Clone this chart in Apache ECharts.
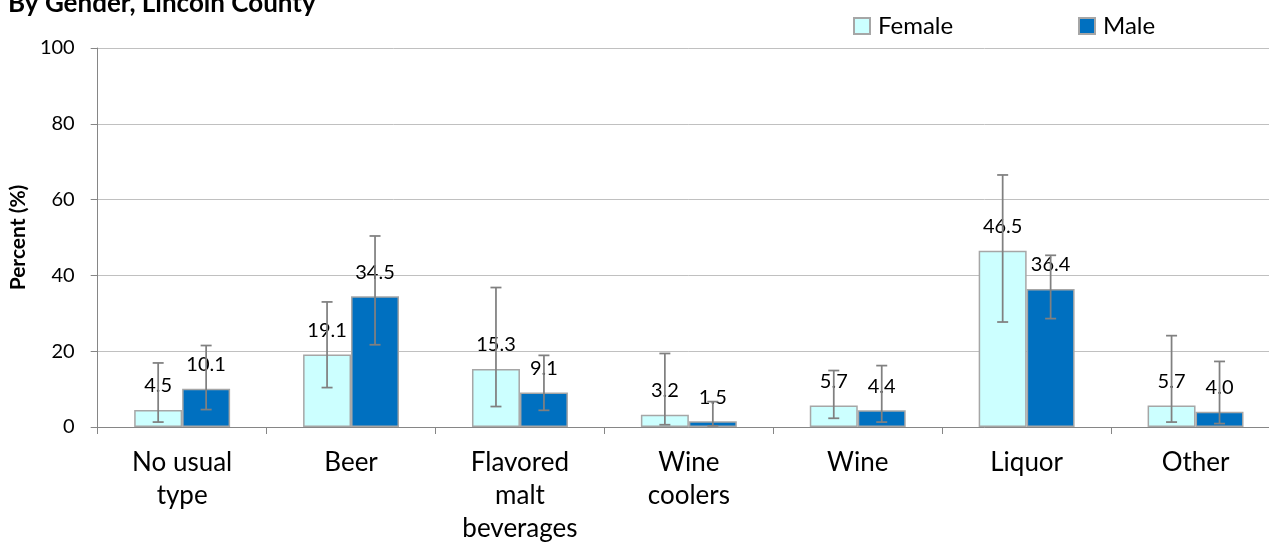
<!DOCTYPE html>
<html>
<head>
<meta charset="utf-8">
<title>Usual type of alcohol by gender</title>
<script src="https://cdn.jsdelivr.net/npm/echarts@6/dist/echarts.min.js"></script>
<style>
  html, body { margin: 0; padding: 0; background: #fff; overflow: hidden; }
  /* the plot area runs a little past the visible window on the right */
  #chart { width: 1280px; height: 548px; }
</style>
</head>
<body>
<div id="chart"></div>
<script>
// Categories and values (percent)
const categories = ['No usual\ntype', 'Beer', 'Flavored\nmalt\nbeverages', 'Wine\ncoolers', 'Wine', 'Liquor', 'Other'];
const female = [4.5, 19.1, 15.3, 3.2, 5.7, 46.5, 5.7];
const male = [10.1, 34.5, 9.1, 1.5, 4.4, 36.4, 4.0];
// Confidence interval bounds
const femaleLow = [1.3, 10.4, 5.4, 0.6, 2.3, 27.7, 1.3];
const femaleHigh = [16.9, 33.0, 36.8, 19.4, 14.9, 66.5, 24.1];
const maleLow = [4.6, 21.7, 4.4, 0.3, 1.3, 28.6, 0.9];
const maleHigh = [21.5, 50.4, 18.9, 6.7, 16.2, 45.3, 17.3];
const yTicks = [0, 20, 40, 60, 80, 100];

const FONT = 'Lato';
const BAR_FRAC = 0.284; // bar width as a share of the category band

function errorSeries(name, low, high, side) {
  const data = low.map((lo, i) => [i, lo, high[i]]);
  return {
    name: name + ' CI',
    type: 'custom',
    z: 5,
    silent: true,
    data: data,
    encode: { x: 0, y: [1, 2] },
    renderItem: function (params, api) {
      const idx = api.value(0);
      const band = api.size([1, 0])[0];
      const off = side * band * BAR_FRAC / 2;
      const lo = api.coord([idx, api.value(1)]);
      const hi = api.coord([idx, api.value(2)]);
      const x = lo[0] + off;
      const cap = 5.5;
      const style = { stroke: '#808080', lineWidth: 1.75, fill: null };
      return {
        type: 'group',
        children: [
          { type: 'line', shape: { x1: x, y1: hi[1], x2: x, y2: lo[1] }, style: style },
          { type: 'line', shape: { x1: x - cap, y1: hi[1], x2: x + cap, y2: hi[1] }, style: style },
          { type: 'line', shape: { x1: x - cap, y1: lo[1], x2: x + cap, y2: lo[1] }, style: style }
        ]
      };
    }
  };
}

const valueLabel = {
  show: true,
  position: 'top',
  distance: 14,
  color: '#000',
  fontFamily: FONT,
  fontSize: 20,
  formatter: p => p.value.toFixed(1)
};

const chart = echarts.init(document.getElementById('chart'), null, { renderer: 'canvas' });

chart.setOption({
  animation: false,
  backgroundColor: '#fff',
  textStyle: { fontFamily: FONT },
  graphic: [{
    type: 'text',
    left: 8,
    top: -9,
    style: {
      text: 'By Gender, Lincoln County',
      fontFamily: FONT,
      fontWeight: 'bold',
      fontSize: 26,
      fill: '#000'
    }
  }],
  legend: [
    {
      data: ['Female'],
      left: 848, top: 9,
      icon: 'rect', itemWidth: 16, itemHeight: 16, itemGap: 0,
      textStyle: { fontFamily: FONT, fontSize: 24, color: '#000', padding: [0, 0, 0, 3] }
    },
    {
      data: ['Male'],
      left: 1073, top: 9,
      icon: 'rect', itemWidth: 16, itemHeight: 16, itemGap: 0,
      textStyle: { fontFamily: FONT, fontSize: 24, color: '#000', padding: [0, 0, 0, 3] }
    }
  ],
  grid: { left: 95, right: 0, top: 48, height: 379, containLabel: false },
  xAxis: {
    type: 'category',
    data: categories,
    axisLine: { lineStyle: { color: '#868686', width: 1 } },
    axisTick: { show: true, alignWithLabel: false, length: 7, lineStyle: { color: '#868686' } },
    axisLabel: {
      color: '#000', fontFamily: FONT, fontSize: 26, lineHeight: 33,
      margin: 19, interval: 0
    },
    splitLine: { show: false }
  },
  yAxis: {
    type: 'value',
    min: yTicks[0],
    max: yTicks[yTicks.length - 1],
    interval: 20,
    name: 'Percent (%)',
    nameLocation: 'middle',
    nameGap: 53,
    nameTextStyle: { fontFamily: FONT, fontWeight: 'bold', fontSize: 21, color: '#000' },
    axisLine: { show: true, lineStyle: { color: '#868686', width: 1 } },
    axisTick: { show: true, length: 7, lineStyle: { color: '#868686' } },
    axisLabel: { color: '#000', fontFamily: FONT, fontSize: 20, margin: 23 },
    splitLine: { show: true, lineStyle: { color: '#C0C0C0', width: 1 } }
  },
  series: [
    {
      name: 'Female',
      type: 'bar',
      data: female,
      barWidth: (BAR_FRAC * 100) + '%',
      barGap: '0%',
      itemStyle: { color: '#CCFFFF', borderColor: '#A6A6A6', borderWidth: 1.5 },
      label: valueLabel
    },
    {
      name: 'Male',
      type: 'bar',
      data: male,
      barWidth: (BAR_FRAC * 100) + '%',
      barGap: '0%',
      itemStyle: { color: '#0070C0', borderColor: '#A6A6A6', borderWidth: 1.5 },
      label: valueLabel
    },
    errorSeries('Female', femaleLow, femaleHigh, -1),
    errorSeries('Male', maleLow, maleHigh, 1)
  ]
});
</script>
</body>
</html>
